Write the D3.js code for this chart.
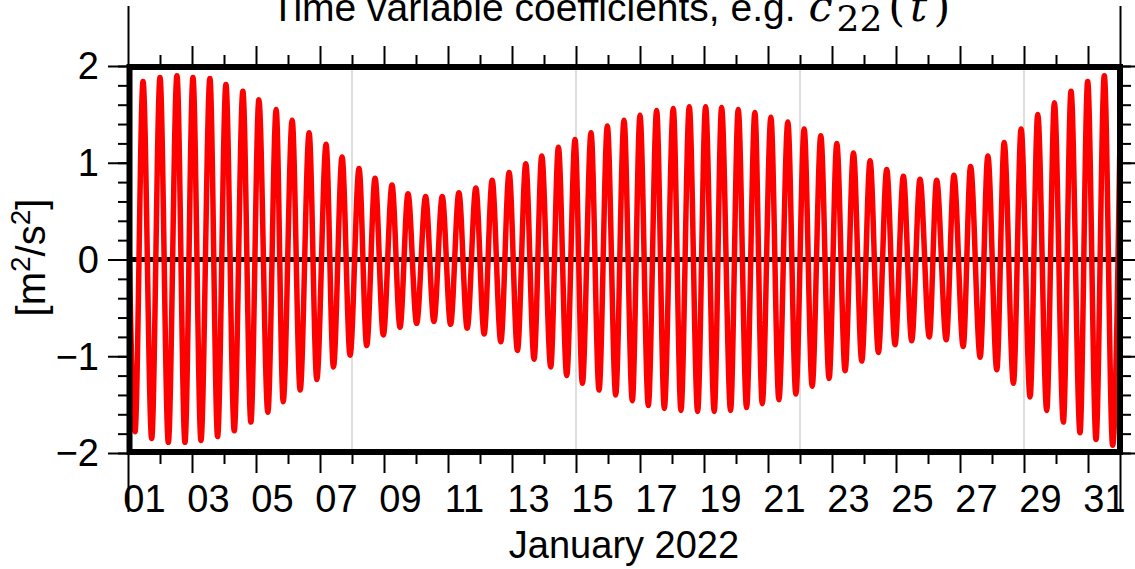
<!DOCTYPE html>
<html>
<head>
<meta charset="utf-8">
<script src="https://cdn.jsdelivr.net/npm/d3@7"></script>
<style>
body { margin: 0; background: #fff; }
svg { display: block; font-family: "Liberation Sans", Arial, sans-serif; }
</style>
</head>
<body>
<div id="viz"></div>
<script>

// values: time in days since 2022-01-01 00:00 UTC, value in m^2/s^2
// crests (high waters of the semidiurnal signal)
var crestDay = [-0.05, 0.47, 1.00, 1.53, 2.03, 2.56, 3.06, 3.59, 4.09, 4.63, 5.13,
	5.66, 6.19, 6.69, 7.22, 7.72, 8.25, 8.75, 9.30, 9.82, 10.34,
	10.87, 11.38, 11.91, 12.43, 12.93, 13.45, 13.97, 14.47, 14.98, 15.50,
	16.00, 16.52, 17.04, 17.54, 18.05, 18.55, 19.07, 19.59, 20.09, 20.62,
	21.13, 21.65, 22.15, 22.67, 23.19, 23.71, 24.23, 24.75, 25.27, 25.81,
	26.33, 26.87, 27.38, 27.91, 28.43, 28.95, 29.47, 29.99, 30.51, 31.03];
var crestVal = [1.80, 1.84, 1.88, 1.90, 1.88, 1.87, 1.81, 1.74, 1.65, 1.55, 1.44,
	1.31, 1.19, 1.06, 0.94, 0.84, 0.77, 0.68, 0.65, 0.65, 0.69,
	0.74, 0.82, 0.90, 0.99, 1.07, 1.16, 1.24, 1.31, 1.38, 1.44,
	1.49, 1.54, 1.56, 1.58, 1.58, 1.57, 1.55, 1.52, 1.47, 1.42,
	1.35, 1.28, 1.20, 1.10, 1.02, 0.93, 0.86, 0.83, 0.82, 0.87,
	0.96, 1.07, 1.21, 1.35, 1.50, 1.62, 1.74, 1.84, 1.90, 1.95];

// troughs (low waters)
var troughDay = [0.22, 0.74, 1.26, 1.78, 2.28, 2.80, 3.32, 3.84, 4.37, 4.85,
	5.38, 5.90, 6.42, 6.94, 7.46, 7.98, 8.50, 9.02, 9.56, 10.08,
	10.60, 11.13, 11.65, 12.17, 12.69, 13.21, 13.71, 14.20, 14.72, 15.24,
	15.76, 16.26, 16.76, 17.28, 17.80, 18.32, 18.83, 19.33, 19.82, 20.34,
	20.87, 21.38, 21.91, 22.41, 22.93, 23.45, 23.97, 24.49, 25.04, 25.57,
	26.10, 26.63, 27.15, 27.67, 28.19, 28.71, 29.23, 29.75, 30.25, 30.77];
var troughVal = [-1.78, -1.85, -1.89, -1.89, -1.87, -1.83, -1.77, -1.68, -1.58, -1.47,
	-1.35, -1.24, -1.11, -0.99, -0.89, -0.78, -0.70, -0.66, -0.64, -0.67,
	-0.71, -0.77, -0.85, -0.94, -1.03, -1.11, -1.20, -1.28, -1.35, -1.40,
	-1.46, -1.51, -1.54, -1.56, -1.57, -1.57, -1.56, -1.53, -1.49, -1.45,
	-1.39, -1.31, -1.23, -1.15, -1.05, -0.96, -0.88, -0.84, -0.80, -0.83,
	-0.90, -1.01, -1.14, -1.28, -1.42, -1.56, -1.68, -1.79, -1.86, -1.92];

// axis settings
var yMajor = [-2, -1, 0, 1, 2];
var yMinor = d3.range(-2, 2.001, 0.2);
var gridDays = [7, 14, 21, 28];
var monthDays = [0, 31];
var titleText = 'Time variable coefficients, e.g. ';
var xTitle = 'January 2022';

// page and plot dimensions
var width = 1135, height = 569;
var plotLeft = 128, plotRight = 1120, plotTop = 66, plotBottom = 453;
var fontSize = 38;
var mathSize = 43;

var svg = d3.select('#viz').append('svg')
	.attr('width', width)
	.attr('height', height);

// days since start -> Date
var t0 = Date.UTC(2022, 0, 1);
function dayToDate(d) { return new Date(t0 + d * 864e5); }

var x = d3.scaleUtc().domain([dayToDate(0), dayToDate(31)]).range([plotLeft, plotRight]);
var y = d3.scaleLinear().domain([-2, 2]).range([plotBottom, plotTop]);

// merge crests and troughs into one time series
var series = crestDay.map(function(d, i) { return {t: d, v: crestVal[i]}; })
	.concat(troughDay.map(function(d, i) { return {t: d, v: troughVal[i]}; }))
	.sort(function(a, b) { return a.t - b.t; });

svg.append('clipPath').attr('id', 'plotClip')
	.append('rect')
	.attr('x', plotLeft).attr('y', plotTop)
	.attr('width', plotRight - plotLeft).attr('height', plotBottom - plotTop);

// weekly grid lines
svg.append('g').selectAll('line')
	.data(gridDays)
	.enter().append('line')
	.attr('x1', function(d) { return x(dayToDate(d)); })
	.attr('x2', function(d) { return x(dayToDate(d)); })
	.attr('y1', plotTop).attr('y2', plotBottom)
	.attr('stroke', '#bdbdbd')
	.attr('stroke-width', 1);

// zero line
svg.append('line')
	.attr('x1', plotLeft).attr('x2', plotRight)
	.attr('y1', y(0)).attr('y2', y(0))
	.attr('stroke', '#000')
	.attr('stroke-width', 5);

// the signal
var line = d3.line()
	.x(function(d) { return x(dayToDate(d.t)); })
	.y(function(d) { return y(d.v); })
	.curve(d3.curveMonotoneX);

svg.append('path')
	.datum(series)
	.attr('clip-path', 'url(#plotClip)')
	.attr('d', line)
	.attr('fill', 'none')
	.attr('stroke', '#ff0000')
	.attr('stroke-width', 5.5)
	.attr('stroke-linejoin', 'round');

// helper: draw a tick-only axis
function tickAxis(axis, transform) {
	var g = svg.append('g')
		.attr('transform', transform)
		.call(axis);
	g.select('.domain').remove();
	g.selectAll('line').attr('stroke', '#000').attr('stroke-width', 2);
	return g;
}

// bottom and top ticks: every day short, every second day long, month bounds longest
var shortDays = d3.range(1, 31, 2).map(dayToDate);
var longDays = d3.range(2, 31, 2).map(dayToDate);
var monthDates = monthDays.map(dayToDate);

tickAxis(d3.axisBottom(x).tickValues(shortDays).tickSize(11).tickFormat(''), 'translate(0,' + plotBottom + ')');
tickAxis(d3.axisBottom(x).tickValues(longDays).tickSize(20).tickFormat(''), 'translate(0,' + plotBottom + ')');
tickAxis(d3.axisBottom(x).tickValues(monthDates).tickSize(59).tickFormat(''), 'translate(0,' + plotBottom + ')');
tickAxis(d3.axisTop(x).tickValues(shortDays).tickSize(11).tickFormat(''), 'translate(0,' + plotTop + ')');
tickAxis(d3.axisTop(x).tickValues(longDays).tickSize(20).tickFormat(''), 'translate(0,' + plotTop + ')');
tickAxis(d3.axisTop(x).tickValues(monthDates).tickSize(60).tickFormat(''), 'translate(0,' + plotTop + ')');

// left and right ticks
tickAxis(d3.axisLeft(y).tickValues(yMinor).tickSize(10).tickFormat(''), 'translate(' + plotLeft + ',0)');
var yAxis = tickAxis(d3.axisLeft(y).tickValues(yMajor).tickSize(20).tickPadding(9).tickFormat(d3.format('d')), 'translate(' + plotLeft + ',0)');
tickAxis(d3.axisRight(y).tickValues(yMinor).tickSize(11).tickFormat(''), 'translate(' + plotRight + ',0)');
tickAxis(d3.axisRight(y).tickValues(yMajor).tickSize(16).tickFormat(''), 'translate(' + plotRight + ',0)');

yAxis.attr('font-family', null).attr('font-size', null);
yAxis.selectAll('text')
	.attr('font-size', fontSize)
	.attr('fill', '#000')
	.attr('dy', '0.34em');

// day labels, centred on each labelled day
var labelDays = d3.range(0.5, 31, 2).map(dayToDate);
var xLabels = svg.append('g')
	.attr('transform', 'translate(0,' + plotBottom + ')')
	.call(d3.axisBottom(x).tickValues(labelDays).tickSize(0).tickFormat(d3.utcFormat('%d')));
xLabels.select('.domain').remove();
xLabels.attr('font-family', null).attr('font-size', null);
xLabels.selectAll('text')
	.attr('font-size', fontSize)
	.attr('fill', '#000')
	.attr('y', 59)
	.attr('dy', null);

// frame
svg.append('rect')
	.attr('x', plotLeft + 1.5).attr('y', plotTop + 1)
	.attr('width', plotRight - plotLeft - 1.5).attr('height', plotBottom - plotTop - 2)
	.attr('fill', 'none')
	.attr('stroke', '#000')
	.attr('stroke-width', 6);

// x axis title
svg.append('text')
	.attr('x', (plotLeft + plotRight) / 2)
	.attr('y', 558)
	.attr('text-anchor', 'middle')
	.attr('font-size', fontSize)
	.text(xTitle);

// y axis title with superscripts
var yTitle = svg.append('text')
	.attr('transform', 'translate(45,' + (y(0) - 2) + ') rotate(-90)')
	.attr('text-anchor', 'middle')
	.attr('font-size', 40);
yTitle.append('tspan').text('[m');
yTitle.append('tspan').attr('font-size', 28).attr('dy', -15).text('2');
yTitle.append('tspan').attr('dy', 15).text('/s');
yTitle.append('tspan').attr('font-size', 28).attr('dy', -15).text('2');
yTitle.append('tspan').attr('dy', 15).text(']');

// title, cut at the top edge as in the original
var title = svg.append('text')
	.attr('x', 271)
	.attr('y', 21)
	.attr('font-size', 39);
title.append('tspan').text(titleText);
var mathFont = '"DejaVu Serif", "Liberation Serif", serif';
title.append('tspan').attr('font-family', mathFont).attr('font-size', mathSize).attr('font-style', 'italic').attr('dx', 2).text('c');
title.append('tspan').attr('font-family', mathFont).attr('font-size', 36).attr('dx', 4).attr('dy', 10).text('22');
title.append('tspan').attr('font-family', mathFont).attr('font-size', mathSize).attr('dx', 6).attr('dy', -10).text('(');
title.append('tspan').attr('font-family', mathFont).attr('font-size', mathSize).attr('font-style', 'italic').attr('dx', 5).text('t');
title.append('tspan').attr('font-family', mathFont).attr('font-size', mathSize).attr('dx', 6).text(')');

</script>
</body>
</html>
